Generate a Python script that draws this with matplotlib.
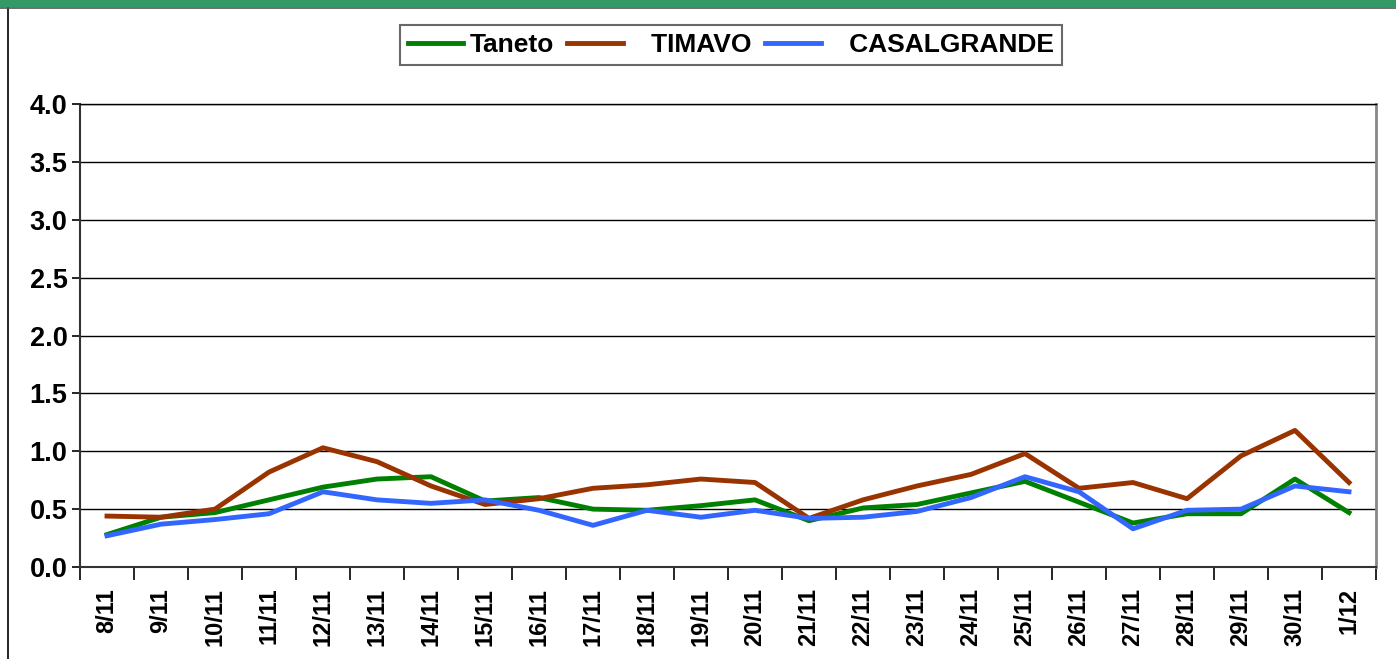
import matplotlib.pyplot as plt
from matplotlib.patches import Rectangle
from matplotlib.lines import Line2D
from matplotlib.ticker import FixedLocator, MultipleLocator

plt.rcParams["font.family"] = ["Liberation Sans", "DejaVu Sans"]
plt.rcParams["font.weight"] = "bold"

DAYS = ["8/11", "9/11", "10/11", "11/11", "12/11", "13/11", "14/11", "15/11",
        "16/11", "17/11", "18/11", "19/11", "20/11", "21/11", "22/11", "23/11",
        "24/11", "25/11", "26/11", "27/11", "28/11", "29/11", "30/11", "1/12"]

TANETO = [0.28, 0.43, 0.47, 0.58, 0.69, 0.76, 0.78, 0.57, 0.60, 0.50, 0.49, 0.53,
          0.58, 0.40, 0.51, 0.54, 0.64, 0.74, 0.56, 0.38, 0.46, 0.46, 0.76, 0.47]
TIMAVO = [0.44, 0.43, 0.50, 0.82, 1.03, 0.91, 0.70, 0.54, 0.59, 0.68, 0.71, 0.76,
          0.73, 0.42, 0.58, 0.70, 0.80, 0.98, 0.68, 0.73, 0.59, 0.96, 1.18, 0.73]
CASALGRANDE = [0.27, 0.37, 0.41, 0.46, 0.65, 0.58, 0.55, 0.58, 0.49, 0.36, 0.49, 0.43,
               0.49, 0.42, 0.43, 0.48, 0.60, 0.78, 0.65, 0.33, 0.49, 0.50, 0.70, 0.65]

GREEN = "#008000"
BROWN = "#993300"
BLUE = "#3366FF"

fig = plt.figure(figsize=(13.96, 6.59), dpi=100)

# green banner at the very top and the left frame line
fig.add_artist(Rectangle((0, 1 - 7 / 659), 1, 7 / 659, transform=fig.transFigure,
                         facecolor="#339966", edgecolor="none"))
fig.add_artist(Line2D([8 / 1396, 8 / 1396], [0, 1 - 8 / 659], transform=fig.transFigure,
                      color="black", lw=1.2))
fig.add_artist(Line2D([0, 1], [1 - 8 / 659, 1 - 8 / 659], transform=fig.transFigure,
                      color="#555555", lw=1.2))

ax = fig.add_axes([80 / 1396, 92 / 659, 1296 / 1396, 463 / 659])
x = list(range(len(DAYS)))
ax.plot(x, TANETO, color=GREEN, lw=3.5, label="Taneto", solid_joinstyle="round")
ax.plot(x, TIMAVO, color=BROWN, lw=3.5, label="   TIMAVO", solid_joinstyle="round")
ax.plot(x, CASALGRANDE, color=BLUE, lw=3.5, label="   CASALGRANDE", solid_joinstyle="round")

ax.set_xlim(-0.5, len(DAYS) - 0.5)
ax.set_ylim(0, 4)
ax.yaxis.set_major_locator(MultipleLocator(0.5))
ax.set_yticklabels([f"{v:.1f}" for v in ax.get_yticks()], fontsize=19.5, fontweight="bold")
ax.yaxis.grid(True, color="black", lw=1.0)
ax.set_axisbelow(True)

ax.set_xticks(x)
ax.set_xticklabels(DAYS, rotation=90, fontsize=17, fontweight="bold")
ax.tick_params(axis="x", which="major", length=0, pad=15)
ax.xaxis.set_minor_locator(FixedLocator([i - 0.5 for i in range(len(DAYS) + 1)]))
ax.tick_params(axis="x", which="minor", length=9, width=1.2, color="black")
ax.tick_params(axis="y", length=6, width=1.2, pad=3)

for side in ["left", "bottom"]:
    ax.spines[side].set_color("#333333")
    ax.spines[side].set_linewidth(1.5)
ax.spines["right"].set_color("#888888")
ax.spines["right"].set_linewidth(2)
ax.spines["top"].set_color("black")
ax.spines["top"].set_linewidth(1.0)

leg = ax.legend(loc="center", bbox_to_anchor=(731 / 1396, 1 - 45 / 659),
                bbox_transform=fig.transFigure, ncol=3, frameon=True, fancybox=False,
                prop={"size": 19, "weight": "bold"}, handlelength=2.1,
                handletextpad=0.25, columnspacing=0.5, borderpad=0.3)
leg.get_frame().set_edgecolor("#444444")
leg.get_frame().set_linewidth(1.5)

fig.savefig("out.png", dpi=100, facecolor="white")
